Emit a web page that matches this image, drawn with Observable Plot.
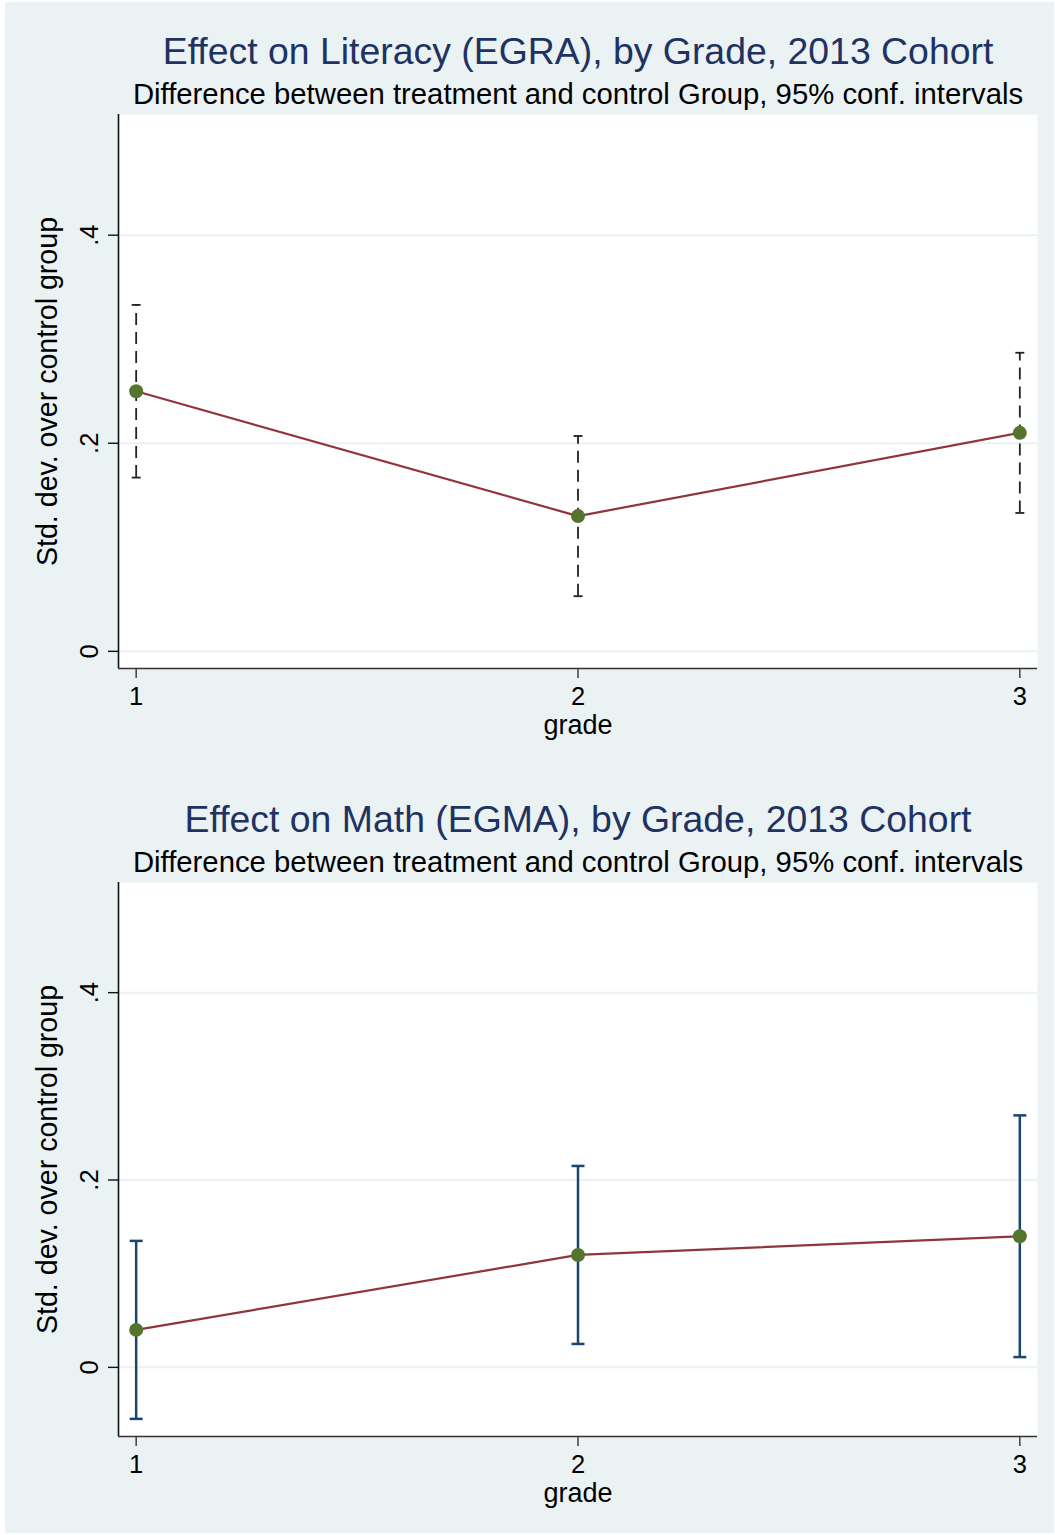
<!DOCTYPE html>
<html>
<head>
<meta charset="utf-8">
<script src="https://cdn.jsdelivr.net/npm/d3@7"></script>
<script src="https://cdn.jsdelivr.net/npm/@observablehq/plot@0.6"></script>
<style>
  html, body { margin: 0; padding: 0; background: #ffffff; overflow: hidden; }
  #bg { position: absolute; left: 5px; top: 2px; width: 1049px; height: 1531px; background: #eaf2f3; }
  .panel { position: absolute; left: 0; }
</style>
</head>
<body>
<div id="bg"></div>
<div id="p1" class="panel" style="top:0px"></div>
<div id="p2" class="panel" style="top:768px"></div>
<script>
// ---- data ----
const grades = [1, 2, 3];
const xTickLabels = ["1", "2", "3"];
const yTicks = [0, 0.2, 0.4];
const yTickLabels = ["0", ".2", ".4"];

const literacyEffect = [0.25, 0.13, 0.21];
const literacyLow = [0.167, 0.053, 0.133];
const literacyHigh = [0.333, 0.207, 0.287];

const mathEffect = [0.04, 0.12, 0.14];
const mathLow = [-0.055, 0.025, 0.011];
const mathHigh = [0.135, 0.215, 0.269];

const titles = ["Effect on Literacy (EGRA), by Grade, 2013 Cohort", "Effect on Math (EGMA), by Grade, 2013 Cohort"];
const subtitle = "Difference between treatment and control Group, 95% conf. intervals";
const yTitle = "Std. dev. over control group";
const xTitle = "grade";

const FONT = "'Liberation Sans', Arial, Helvetica, sans-serif";
const capSymbol = {
  draw(ctx, size) {
    const w = Math.sqrt(size / Math.PI);
    ctx.moveTo(-w, 0);
    ctx.lineTo(w, 0);
  }
};

function panel(title, effect, low, high, yDomain, ciStyle) {
  const rows = grades.map((g, i) => ({grade: g, est: effect[i], lo: low[i], hi: high[i]}));
  const xDomain = [0.96, 3.04];
  return Plot.plot({
    width: 1055,
    height: 768,
    marginLeft: 118,
    marginRight: 18,
    marginTop: 114,
    marginBottom: 100,
    style: `background: transparent; font-family: ${FONT}; overflow: visible;`,
    x: {domain: xDomain, axis: null},
    y: {domain: yDomain, axis: null},
    marks: [
      Plot.frame({fill: "#ffffff", stroke: null}),
      Plot.gridY({ticks: yTicks, stroke: "#eaf2f3", strokeOpacity: 1, strokeWidth: 2}),
      Plot.ruleX(rows, {x: "grade", y1: "lo", y2: "hi", stroke: ciStyle.color, strokeWidth: ciStyle.width, strokeDasharray: ciStyle.dash}),
      Plot.dot(rows, {x: "grade", y: "hi", symbol: capSymbol, r: ciStyle.cap, stroke: ciStyle.color, strokeWidth: ciStyle.width, fill: "none"}),
      Plot.dot(rows, {x: "grade", y: "lo", symbol: capSymbol, r: ciStyle.cap, stroke: ciStyle.color, strokeWidth: ciStyle.width, fill: "none"}),
      Plot.line(rows, {x: "grade", y: "est", stroke: "#90353b", strokeWidth: 2.2}),
      Plot.dot(rows, {x: "grade", y: "est", r: 7, fill: "#55752f", stroke: null}),
      Plot.ruleX([xDomain[0]], {stroke: "#111", strokeWidth: 1.6}),
      Plot.ruleY([yDomain[0]], {stroke: "#333", strokeWidth: 1.6}),
      Plot.axisY({ticks: yTicks, tickFormat: d => yTickLabels[yTicks.indexOf(d)], tickSize: 10, tickPadding: 11, tickRotate: -90, fontSize: 25.5, fill: "#000", stroke: "#111", strokeWidth: 1.4, label: null}),
      Plot.axisX({ticks: grades, tickFormat: d => xTickLabels[grades.indexOf(d)], tickSize: 10, tickPadding: 8, fontSize: 25.5, fill: "#000", stroke: "#333", strokeWidth: 1.4, label: null}),
      Plot.text([yTitle], {text: d => d, frameAnchor: "left", dx: -62, rotate: -90, lineAnchor: "bottom", textAnchor: "middle", fontSize: 28.6, fill: "#000"}),
      Plot.text([xTitle], {text: d => d, frameAnchor: "bottom", dy: 65, lineAnchor: "bottom", textAnchor: "middle", fontSize: 27, fill: "#000"}),
      Plot.text([title], {text: d => d, frameAnchor: "top", dy: -51, lineAnchor: "bottom", textAnchor: "middle", fontSize: 37.4, fill: "#1f3262"}),
      Plot.text([subtitle], {text: d => d, frameAnchor: "top", dy: -11, lineAnchor: "bottom", textAnchor: "middle", fontSize: 29.3, fill: "#000"})
    ]
  });
}

document.getElementById("p1").appendChild(
  panel(titles[0], literacyEffect, literacyLow, literacyHigh, [-0.0165, 0.516], {color: "#222", width: 1.8, dash: "12,7", cap: 4.5})
);
document.getElementById("p2").appendChild(
  panel(titles[1], mathEffect, mathLow, mathHigh, [-0.0738, 0.5176], {color: "#1a476f", width: 2.5, dash: null, cap: 6.5})
);
</script>
</body>
</html>
